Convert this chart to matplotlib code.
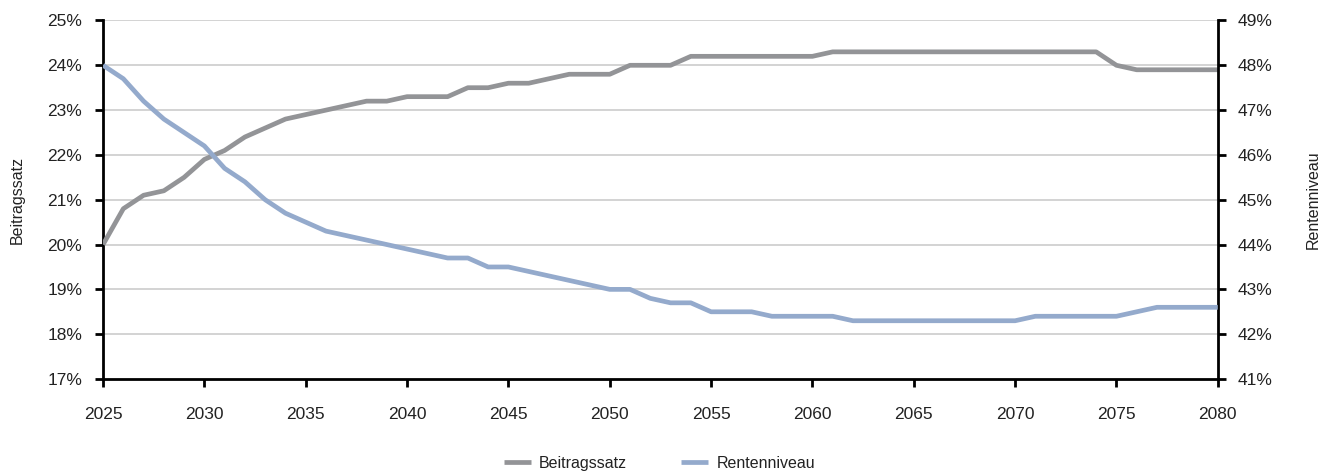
import matplotlib
matplotlib.use("Agg")
import matplotlib.pyplot as plt
from matplotlib.ticker import FixedLocator, FuncFormatter

plt.rcParams['font.family'] = ['Liberation Sans', 'DejaVu Sans']

years = list(range(2025, 2081))

beitragssatz = [
    20.0, 20.8, 21.1, 21.2, 21.5, 21.9, 22.1, 22.4, 22.6, 22.8,
    22.9, 23.0, 23.1, 23.2, 23.2, 23.3, 23.3, 23.3, 23.5, 23.5,
    23.6, 23.6, 23.7, 23.8, 23.8, 23.8, 24.0, 24.0, 24.0, 24.2,
    24.2, 24.2, 24.2, 24.2, 24.2, 24.2, 24.3, 24.3, 24.3, 24.3,
    24.3, 24.3, 24.3, 24.3, 24.3, 24.3, 24.3, 24.3, 24.3, 24.3,
    24.0, 23.9, 23.9, 23.9, 23.9, 23.9,
]

rentenniveau = [
    48.0, 47.7, 47.2, 46.8, 46.5, 46.2, 45.7, 45.4, 45.0, 44.7,
    44.5, 44.3, 44.2, 44.1, 44.0, 43.9, 43.8, 43.7, 43.7, 43.5,
    43.5, 43.4, 43.3, 43.2, 43.1, 43.0, 43.0, 42.8, 42.7, 42.7,
    42.5, 42.5, 42.5, 42.4, 42.4, 42.4, 42.4, 42.3, 42.3, 42.3,
    42.3, 42.3, 42.3, 42.3, 42.3, 42.3, 42.4, 42.4, 42.4, 42.4,
    42.4, 42.5, 42.6, 42.6, 42.6, 42.6,
]

x_ticks = [2025, 2030, 2035, 2040, 2045, 2050, 2055, 2060, 2065, 2070, 2075, 2080]
left_ticks = list(range(17, 26))
right_ticks = list(range(41, 50))

grey = '#939497'
blue = '#94aacc'
text_col = '#222222'
fs_tick = 12.5
fs = 11.5

fig = plt.figure(figsize=(13.28, 4.74), dpi=100)
ax = fig.add_axes([0.0776, 0.2004, 0.8394, 0.7564])
ax2 = ax.twinx()

ax.set_xlim(2025, 2080)
ax.set_ylim(17, 25)
ax2.set_ylim(41, 49)

# horizontal grid on the left scale
for v in left_ticks[1:]:
    ax.axhline(v, color='#d0d0d0', lw=1.3, zorder=0)

l1, = ax.plot(years, beitragssatz, color=grey, lw=3.4, solid_capstyle='butt',
              solid_joinstyle='round', zorder=3, label='Beitragssatz')
l2, = ax2.plot(years, rentenniveau, color=blue, lw=3.4, solid_capstyle='butt',
               solid_joinstyle='round', zorder=3, label='Rentenniveau')

pct = FuncFormatter(lambda v, p: f'{v:.0f}%')

ax.xaxis.set_major_locator(FixedLocator(x_ticks))
ax.yaxis.set_major_locator(FixedLocator(left_ticks))
ax.yaxis.set_major_formatter(pct)
ax2.yaxis.set_major_locator(FixedLocator(right_ticks))
ax2.yaxis.set_major_formatter(pct)

for a in (ax, ax2):
    a.spines['top'].set_visible(False)
    for s in a.spines.values():
        s.set_linewidth(2.0)
        s.set_color('black')
    a.set_facecolor('none')

ax.spines['right'].set_visible(False)
ax2.spines['left'].set_visible(False)
ax2.spines['bottom'].set_visible(False)

ax.tick_params(axis='y', direction='out', length=6, width=2, pad=9,
               labelsize=fs_tick, labelcolor=text_col, color='black')
ax.tick_params(axis='x', direction='out', length=6, width=2, pad=14,
               labelsize=fs_tick, labelcolor=text_col, color='black')
ax2.tick_params(axis='y', direction='out', length=6, width=2, pad=8,
                labelsize=fs_tick, labelcolor=text_col, color='black')

ax.set_ylabel('Beitragssatz', fontsize=fs, color=text_col)
ax2.set_ylabel('Rentenniveau', fontsize=fs, color=text_col, rotation=90)
ax.yaxis.set_label_coords(-0.0766, 0.5)
ax2.yaxis.set_label_coords(1.0855, 0.5)
ax.yaxis.label.set_va('center')
ax2.yaxis.label.set_va('center')

fig.legend(handles=[l1, l2], loc='center', bbox_to_anchor=(0.4965, 0.023),
           ncol=2, frameon=False, fontsize=fs, handlelength=1.7,
           columnspacing=3.4, handletextpad=0.5, labelcolor=text_col)

fig.savefig('out.png', dpi=100)
